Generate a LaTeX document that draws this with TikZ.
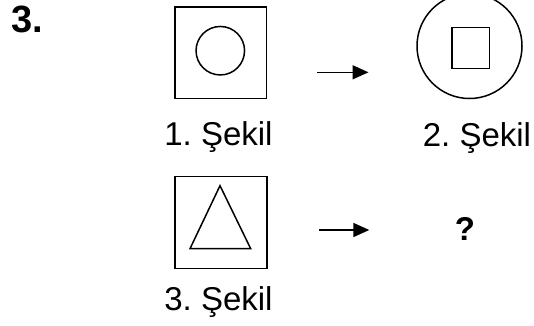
\documentclass[tikz,border=0pt]{standalone}
\usepackage{fontspec}
\setmainfont{Liberation Sans}
\usetikzlibrary{arrows.meta}
\frenchspacing
\begin{document}
\begin{tikzpicture}[x=1pt,y=-1pt,
  outl/.style={draw=black,line width=1.5pt,inner sep=0pt,outer sep=0pt},
  sqbox/.style={outl,rectangle,minimum width=#1,minimum height=#1},
  rnd/.style={outl,circle,minimum size=#1},
  lbl/.style={inner sep=0pt,anchor=base,font=\fontsize{33}{40}\selectfont},
  arr/.style={line width=1.6pt,-{Triangle[length=16pt,width=14pt]}}]
\useasboundingbox (0,0) rectangle (534,325);
% number
\node[inner sep=0pt,anchor=base west,font=\fontsize{38}{46}\selectfont\bfseries] (num) at (11.5,32) {3.};
% figure 1
\node[sqbox=91.5pt] (sq1) at (220.5,52.5) {};
\node[rnd=48.5pt] (c1) at (220.3,50.7) {};
\node[lbl] (l1) at (218.5,145.7) {1. Şekil};
% figure 2
\node[rnd=105pt] (c2) at (469.5,46) {};
\node[outl,rectangle,minimum width=37.5pt,minimum height=41pt] (sq2) at (470.5,48) {};
\node[lbl] (l2) at (477,146.7) {2. Şekil};
% arrow 1
\coordinate (a1s) at (317.3,72.3);
\coordinate (a1e) at (368.5,72.3);
\draw[arr] (a1s) -- (a1e);
% figure 3
\node[sqbox=92pt] (sq3) at (220.8,222.5) {};
\coordinate (t1) at (220,185.7);
\coordinate (t2) at (190,248.7);
\coordinate (t3) at (250.7,248.7);
\draw[line width=1.5pt,line join=miter] (t1) -- (t2) -- (t3) -- cycle;
\node[lbl] (l3) at (218.5,310) {3. Şekil};
% arrow 2
\coordinate (a2s) at (319,230);
\coordinate (a2e) at (369.3,230);
\draw[arr] (a2s) -- (a2e);
% question
\node[inner sep=0pt,anchor=base,font=\fontsize{33}{40}\selectfont\bfseries] (q) at (465,240) {?};
\end{tikzpicture}
\end{document}
